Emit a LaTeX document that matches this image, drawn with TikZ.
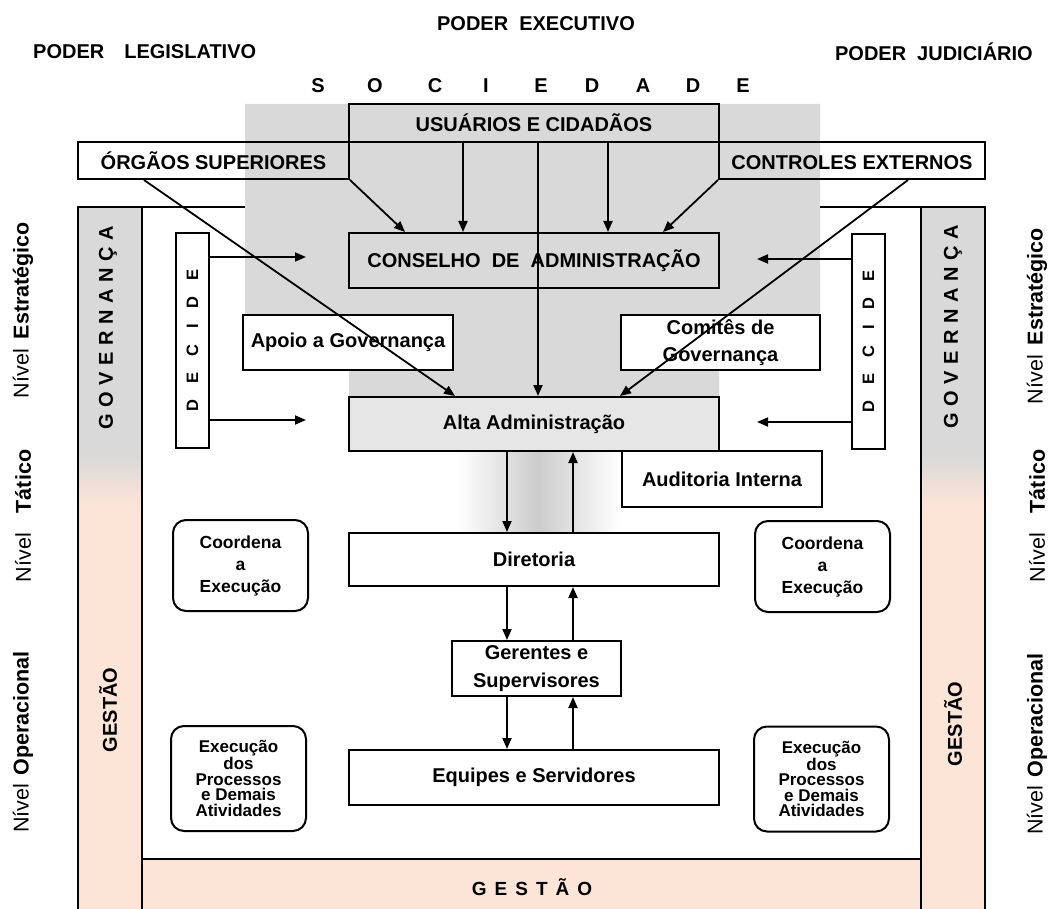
\documentclass[tikz,border=0pt]{standalone}
\usepackage{fontspec}
\setmainfont{Liberation Sans}
\usetikzlibrary{arrows.meta,calc}
\definecolor{bggray}{HTML}{D9D9D9}
\definecolor{altagray}{HTML}{E6E6E6}
\definecolor{peach}{HTML}{FCE4D6}
\definecolor{gradgray}{HTML}{CCCCCC}
\begin{document}
\begin{tikzpicture}[x=1pt,y=-1pt,
  box/.style={draw=black,line width=2pt,inner sep=0pt,align=center,
    font=\fontsize{20}{27}\selectfont\bfseries},
  rbox/.style={box,rounded corners=13pt},
  decbox/.style={draw=black,line width=1.4pt,fill=white,inner sep=0pt,
    minimum width=33pt,minimum height=215pt},
  arr/.style={line width=1.8pt,-{Triangle[length=11pt,width=9pt]}},
  frame/.style={line width=2pt},
  title/.style={font=\fontsize{20}{24}\selectfont\bfseries,inner sep=0pt},
  nivel/.style={rotate=90,font=\fontsize{21.5}{26}\selectfont,inner sep=0pt},
  bartxt/.style={rotate=90,font=\fontsize{20}{24}\selectfont\bfseries,inner sep=0pt},
  dectxt/.style={rotate=90,font=\fontsize{16.5}{20}\selectfont\bfseries,inner sep=0pt},
]
\fill[white] (0,0) rectangle (1055,909);
\useasboundingbox (0,0) rectangle (1055,909);

% gray background of the governance area
\fill[bggray] (245,104) -- (820,104) -- (820,370) -- (719,370) -- (719,397)
  -- (349,397) -- (349,370) -- (245,370) -- cycle;

% side bars
\fill[bggray] (78,207) rectangle (142,455);
\shade[top color=bggray,bottom color=peach] (78,455) rectangle (142,505);
\fill[peach] (78,505) rectangle (142,909);
\fill[bggray] (921,207) rectangle (985,455);
\shade[top color=bggray,bottom color=peach] (921,455) rectangle (985,505);
\fill[peach] (921,505) rectangle (985,909);
% bottom bar
\fill[peach] (142,859) rectangle (921,909);
% frame lines
\draw[frame] (245,207) -- (78,207) -- (78,910);
\draw[frame] (142,207) -- (142,910);
\draw[frame] (142,859) -- (921,859);
\draw[frame] (820,207) -- (985,207) -- (985,910);
\draw[frame] (921,207) -- (921,910);

% gradient between Alta Administracao and Diretoria
\shade[left color=white,right color=white,middle color=gradgray] (457,451) rectangle (620,533);

% top titles
\node[title] (pexe) at (536,24) {PODER\hspace{11pt}EXECUTIVO};
\node[title,anchor=west] (pleg) at (33,52) {PODER\hspace{20pt}LEGISLATIVO};
\node[title,anchor=east] (pjud) at (1033,52) {PODER\hspace{11pt}JUDICIÁRIO};
\foreach \xx/\ll [count=\i] in {318/S,375/O,435/C,486/I,541/E,592/D,643/A,693/D,743/E}
  \node[title] (soc\i) at (\xx,86) {\ll};

% boxes
\node[box,minimum width=370pt,minimum height=38pt] (usu) at (534,123) {USUÁRIOS E CIDADÃOS};
\node[box,minimum width=271pt,minimum height=37pt] (org) at (213.5,160.5) {ÓRGÃOS SUPERIORES};
\node[box,minimum width=266pt,minimum height=37pt] (ctl) at (852,160.5) {\vphantom{Ó}CONTROLES EXTERNOS};
\node[box,minimum width=370pt,minimum height=55pt] (cons) at (534,260.5) {CONSELHO\ \ DE\ \ ADMINISTRAÇÃO};
\node[box,fill=white,minimum width=210pt,minimum height=55pt] (apoio) at (348,342.5) {Apoio a Governança};
\node[box,fill=white,minimum width=199pt,minimum height=55pt] (comite) at (720.5,342.5) {Comitês de\\Governança};
\node[box,fill=altagray,minimum width=370pt,minimum height=54pt] (alta) at (534,424) {Alta Administração};
\node[box,fill=white,minimum width=200pt,minimum height=56pt] (aud) at (722,479) {Auditoria Interna};
\node[box,fill=white,minimum width=370pt,minimum height=53pt] (dir) at (534,559.5) {Diretoria};
\node[box,fill=white,minimum width=169pt,minimum height=55pt,font=\fontsize{20}{28}\selectfont\bfseries] (ger) at (536.5,668.5) {Gerentes e\\Supervisores};
\node[box,fill=white,minimum width=370pt,minimum height=55pt] (equ) at (534,777.5) {Equipes e Servidores};

\node[rbox,fill=white,minimum width=135pt,minimum height=91pt,font=\fontsize{17.5}{22}\selectfont\bfseries] (coordL) at (240.5,565.5) {Coordena\\a\\Execução};
\node[rbox,fill=white,minimum width=135pt,minimum height=91pt,font=\fontsize{17.5}{22}\selectfont\bfseries] (coordR) at (822.5,566.5) {Coordena\\a\\Execução};
\node[rbox,fill=white,minimum width=135pt,minimum height=105pt,font=\fontsize{17}{15.5}\selectfont\bfseries] (execL) at (238.5,778.5) {Execução\\dos\\Processos\\e Demais\\Atividades};
\node[rbox,fill=white,minimum width=135pt,minimum height=105pt,font=\fontsize{17}{15.5}\selectfont\bfseries] (execR) at (821.5,779) {Execução\\dos\\Processos\\e Demais\\Atividades};

\node[decbox] (decL) at (192.5,340.5) {};
\node[decbox] (decR) at (868.5,341.5) {};
\node[dectxt] (decLt) at (decL.center) {D\kern16pt E\kern16pt C\kern16pt I\kern16pt D\kern16pt E};
\node[dectxt] (decRt) at (decR.center) {D\kern16pt E\kern16pt C\kern16pt I\kern16pt D\kern16pt E};

% bar texts
\node[bartxt] (govL) at (108,328) {G\kern6.5pt O\kern6.5pt V\kern6.5pt E\kern6.5pt R\kern6.5pt N\kern6.5pt A\kern6.5pt N\kern6.5pt Ç\kern6.5pt A};
\node[bartxt] (govR) at (953,327) {G\kern6.5pt O\kern6.5pt V\kern6.5pt E\kern6.5pt R\kern6.5pt N\kern6.5pt A\kern6.5pt N\kern6.5pt Ç\kern6.5pt A};
\node[bartxt] (gesL) at (108,710) {GESTÃO};
\node[bartxt] (gesR) at (953,724) {GESTÃO};
\node[title,font=\fontsize{19}{23}\selectfont\bfseries] (gesB) at (532,887) {G\kern8pt E\kern8pt S\kern8pt T\kern8pt Ã\kern8pt O};

% level labels
\node[nivel] (nEL) at (23,310) {Nível\hspace{10pt}\textbf{Estratégico}};
\node[nivel] (nTL) at (23,516) {Nível\hspace{20pt}\textbf{Tático}};
\node[nivel] (nOL) at (23,742) {Nível\hspace{8pt}\textbf{Operacional}};
\node[nivel] (nER) at (1037,316) {Nível\hspace{10pt}\textbf{Estratégico}};
\node[nivel] (nTR) at (1037,516) {Nível\hspace{20pt}\textbf{Tático}};
\node[nivel] (nOR) at (1037,744) {Nível\hspace{8pt}\textbf{Operacional}};

% connectors from the top
\draw[arr] (org.south east) -- (cons.north -| 405,0);
\draw[arr] (usu.south -| 463,0) -- (cons.north -| 463,0);
\draw[arr] (usu.south -| 608,0) -- (cons.north -| 608,0);
\draw[arr] (ctl.south west) -- (cons.north -| 663,0);
\draw[arr] (usu.south -| 538,0) -- (alta.north -| 538,0);
\draw[arr] (org.south -| 144,0) -- (alta.north -| 455,0);
\draw[arr] (ctl.south -| 908,0) -- (alta.north -| 620,0);

% DECIDE arrows
\coordinate (dl1) at (306,257);
\coordinate (dl2) at (306,420);
\coordinate (dr1) at (757,259);
\coordinate (dr2) at (757,422);
\draw[arr] (decL.east |- dl1) -- (dl1);
\draw[arr] (decL.east |- dl2) -- (dl2);
\draw[arr] (decR.west |- dr1) -- (dr1);
\draw[arr] (decR.west |- dr2) -- (dr2);

% vertical hierarchy
\draw[arr] (alta.south -| 507,0) -- (dir.north -| 507,0);
\draw[arr] (dir.north -| 573,0) -- (alta.south -| 573,0);
\draw[arr] (dir.south -| 507,0) -- (ger.north -| 507,0);
\draw[arr] (ger.north -| 573,0) -- (dir.south -| 573,0);
\draw[arr] (ger.south -| 507,0) -- (equ.north -| 507,0);
\draw[arr] (equ.north -| 573,0) -- (ger.south -| 573,0);
\end{tikzpicture}
\end{document}
